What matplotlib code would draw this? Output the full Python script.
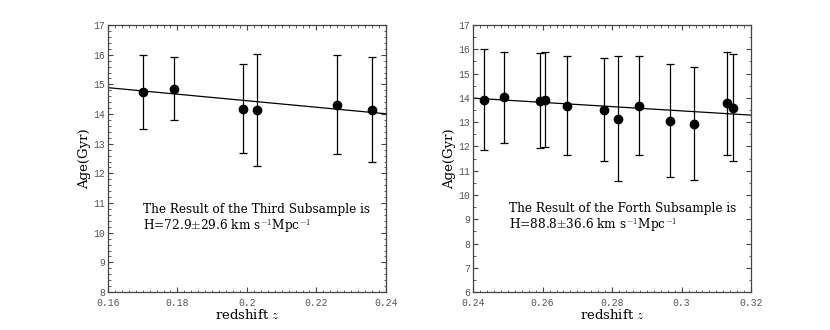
import matplotlib
matplotlib.use("Agg")
import matplotlib.pyplot as plt
from matplotlib.ticker import MultipleLocator, FuncFormatter

plt.rcParams['mathtext.fontset'] = 'cm'
plt.rcParams['font.family'] = 'DejaVu Serif'

# third subsample
z3 = [0.170, 0.179, 0.199, 0.203, 0.226, 0.236]
age3 = [14.75, 14.86, 14.16, 14.14, 14.31, 14.14]
up3 = [16.00, 15.93, 15.68, 16.02, 15.99, 15.93]
lo3 = [13.49, 13.80, 12.68, 12.25, 12.65, 12.38]
fit3 = (14.89, -11.0)  # value at z0, slope
z0_3 = 0.16

# forth subsample
z4 = [0.2431, 0.2489, 0.2593, 0.2606, 0.2670, 0.2777,
      0.2818, 0.2876, 0.2966, 0.3036, 0.3131, 0.3148]
age4 = [13.90, 14.03, 13.89, 13.90, 13.66, 13.52,
        13.15, 13.68, 13.05, 12.94, 13.78, 13.57]
up4 = [16.00, 15.88, 15.84, 15.88, 15.74, 15.66,
       15.74, 15.74, 15.41, 15.29, 15.90, 15.80]
lo4 = [11.84, 12.13, 11.93, 11.96, 11.63, 11.41,
       10.58, 11.63, 10.75, 10.61, 11.64, 11.38]
fit4 = (13.99, -8.75)
z0_4 = 0.24

text3 = "The Result of the Third Subsample is\nH=72.9$\\pm$29.6 km s$^{-1}$Mpc$^{-1}$"
text4 = "The Result of the Forth Subsample is\nH=88.8$\\pm$36.6 km s$^{-1}$Mpc$^{-1}$"


def fmt(v, pos):
    s = f"{v:.2f}".rstrip('0').rstrip('.')
    return s


def draw(ax, z, age, up, lo, fit, z0, xlim, ylim, ymin, txt, txy):
    yerr = [[a - l for a, l in zip(age, lo)], [u - a for a, u in zip(age, up)]]
    ax.errorbar(z, age, yerr=yerr, fmt='o', color='black', ms=6,
                elinewidth=0.9, capsize=2.8, capthick=0.9, zorder=3)
    xs = [xlim[0], xlim[1]]
    ax.plot(xs, [fit[0] + fit[1] * (x - z0) for x in xs], color='black', lw=0.9)
    ax.set_xlim(*xlim)
    ax.set_ylim(*ylim)
    ax.xaxis.set_major_locator(MultipleLocator(0.02))
    ax.xaxis.set_minor_locator(MultipleLocator(0.002))
    ax.xaxis.set_major_formatter(FuncFormatter(fmt))
    ax.yaxis.set_major_locator(MultipleLocator(1))
    ax.yaxis.set_minor_locator(MultipleLocator(ymin))
    ax.tick_params(which='both', direction='in', top=True, right=True,
                   color='#444444', labelcolor='#555555')
    ax.tick_params(which='major', length=3.5, width=0.8, labelsize=7, pad=2)
    ax.tick_params(axis='x', which='major', pad=4.5)
    ax.tick_params(which='minor', length=1.8, width=0.6)
    for lab in ax.get_xticklabels() + ax.get_yticklabels():
        lab.set_family('Liberation Mono')
    for sp in ax.spines.values():
        sp.set_color('#444444')
        sp.set_linewidth(0.9)
    ax.set_xlabel("redshift $z$", fontsize=9.5, labelpad=0)
    ax.set_ylabel("Age(Gyr)", fontsize=9.5, labelpad=2)
    ax.text(txy[0], txy[1], txt, fontsize=8.7, va='center', ha='left',
            linespacing=1.1)


fig = plt.figure(figsize=(8.3, 3.3), dpi=100)
ax1 = fig.add_axes([0.130, 0.115, 0.335, 0.809])
ax2 = fig.add_axes([0.570, 0.115, 0.335, 0.809])

draw(ax1, z3, age3, up3, lo3, fit3, z0_3, (0.16, 0.24), (8, 17), 0.2,
     text3, (0.170, 10.45))
draw(ax2, z4, age4, up4, lo4, fit4, z0_4, (0.24, 0.32), (6, 17), 0.5,
     text4, (0.2504, 9.05))

fig.savefig("out.png", dpi=100)
